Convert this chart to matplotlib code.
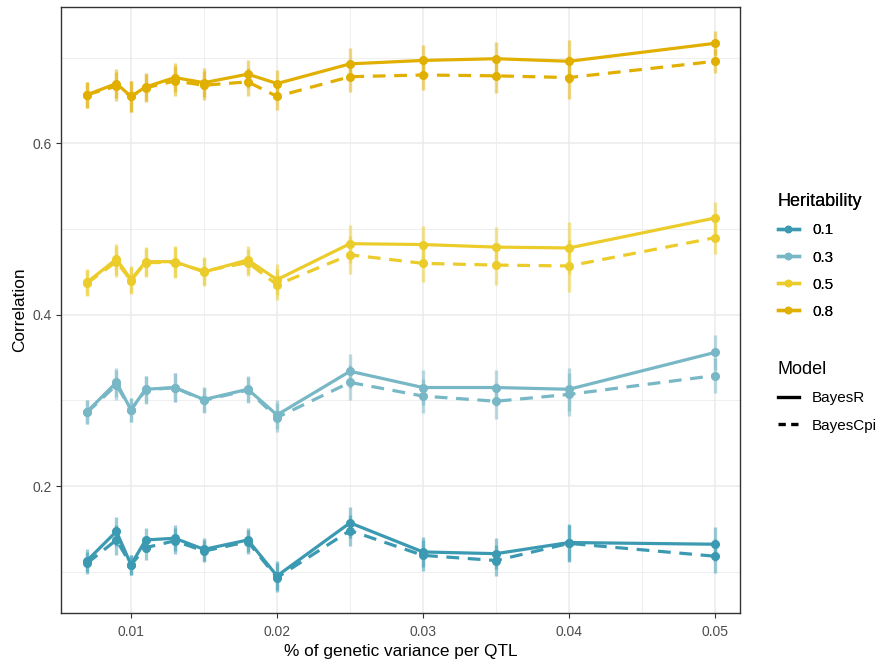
import numpy as np
from matplotlib import pyplot as plt
from matplotlib.lines import Line2D

plt.rcParams['font.family'] = ['Liberation Sans', 'DejaVu Sans']

qtl_var = [0.007, 0.009, 0.010, 0.011, 0.013, 0.015, 0.018, 0.020, 0.025, 0.030, 0.035, 0.040, 0.050]
heritability = ['0.1', '0.3', '0.5', '0.8']
colors = ['#3B9AB2', '#78B7C5', '#EBCC2A', '#E1AF00']

bayesR = {
    '0.1': [0.113, 0.147, 0.108, 0.137, 0.139, 0.126, 0.137, 0.095, 0.157, 0.123, 0.121, 0.134, 0.132],
    '0.3': [0.287, 0.321, 0.289, 0.313, 0.315, 0.301, 0.313, 0.283, 0.334, 0.315, 0.315, 0.313, 0.356],
    '0.5': [0.438, 0.465, 0.441, 0.462, 0.462, 0.450, 0.464, 0.441, 0.483, 0.482, 0.479, 0.478, 0.513],
    '0.8': [0.657, 0.670, 0.655, 0.666, 0.677, 0.671, 0.681, 0.670, 0.693, 0.697, 0.699, 0.696, 0.717],
}
bayesCpi = {
    '0.1': [0.110, 0.137, 0.108, 0.128, 0.136, 0.124, 0.135, 0.093, 0.148, 0.119, 0.113, 0.133, 0.118],
    '0.3': [0.286, 0.318, 0.289, 0.312, 0.315, 0.300, 0.312, 0.280, 0.321, 0.305, 0.299, 0.307, 0.329],
    '0.5': [0.437, 0.462, 0.440, 0.461, 0.461, 0.451, 0.461, 0.435, 0.470, 0.460, 0.458, 0.457, 0.490],
    '0.8': [0.657, 0.667, 0.655, 0.665, 0.673, 0.668, 0.672, 0.655, 0.678, 0.680, 0.679, 0.677, 0.696],
}
# approximate half-width of the error bars
err = {
    '0.1': [0.013, 0.017, 0.012, 0.014, 0.015, 0.013, 0.014, 0.017, 0.018, 0.018, 0.018, 0.022, 0.020],
    '0.3': [0.014, 0.017, 0.014, 0.016, 0.017, 0.015, 0.015, 0.017, 0.020, 0.020, 0.021, 0.025, 0.020],
    '0.5': [0.015, 0.018, 0.016, 0.017, 0.018, 0.016, 0.016, 0.018, 0.022, 0.022, 0.023, 0.030, 0.019],
    '0.8': [0.015, 0.017, 0.018, 0.016, 0.017, 0.017, 0.016, 0.016, 0.018, 0.018, 0.020, 0.025, 0.014],
}

fig = plt.figure(figsize=(8.8, 6.64), dpi=100)
ax = fig.add_axes([61 / 880, 1 - 613 / 664, 679 / 880, 606 / 664])

x = np.array(qtl_var)
for h, c in zip(heritability, colors):
    for vals, ls in [(bayesR[h], '-'), (bayesCpi[h], (0, (4, 2.7)))]:
        y = np.array(vals)
        ax.errorbar(x, y, yerr=err[h], fmt='none', ecolor=c, alpha=0.5, elinewidth=2.4, capsize=0, zorder=2)
        ax.plot(x, y, color=c, lw=2.3, linestyle=ls, zorder=3)
        ax.plot(x, y, 'o', color=c, ms=5.5, zorder=4)

ax.set_xlim(0.005205, 0.05171)
ax.set_ylim(0.0517, 0.7594)
ax.set_xticks([0.01, 0.02, 0.03, 0.04, 0.05])
ax.set_xticklabels(['0.01', '0.02', '0.03', '0.04', '0.05'])
ax.set_xticks([0.015, 0.025, 0.035, 0.045], minor=True)
ax.set_yticks([0.2, 0.4, 0.6])
ax.set_yticklabels(['0.2', '0.4', '0.6'])
ax.set_yticks([0.1, 0.3, 0.5, 0.7], minor=True)
ax.grid(which='major', color='#EBEBEB', lw=1.1, zorder=0)
ax.grid(which='minor', color='#EBEBEB', lw=0.55, zorder=0)
ax.set_axisbelow(True)
ax.tick_params(which='major', length=3.5, width=0.8, color='#333333', labelsize=10, labelcolor='#4D4D4D', pad=3)
ax.tick_params(axis='x', which='major', pad=5.5)
ax.tick_params(which='minor', length=0)
for s in ax.spines.values():
    s.set_color('#333333')
    s.set_linewidth(1.0)

ax.set_xlabel('% of genetic variance per QTL', fontsize=12.4, labelpad=3.5)
ax.set_ylabel('Correlation', fontsize=12.4, labelpad=4)

h_handles = [Line2D([0], [0], color=c, lw=2.4, marker='o', ms=4.5) for c in colors]
leg1 = fig.legend(h_handles, heritability, title='Heritability', loc='upper left',
                  bbox_to_anchor=(764 / 880, 1 - 179.5 / 664), frameon=False, fontsize=11,
                  title_fontsize=13, handlelength=1.4, labelspacing=0.86, alignment='left',
                  handletextpad=0.85)
fig.add_artist(leg1)

m_handles = [Line2D([0], [0], color='black', lw=2.4),
             Line2D([0], [0], color='black', lw=2.4, linestyle=(0, (2.2, 1.6)))]
fig.legend(m_handles, ['BayesR', 'BayesCpi'], title='Model', loc='upper left',
           bbox_to_anchor=(764 / 880, 1 - 347.5 / 664), frameon=False, fontsize=11,
           title_fontsize=13, handlelength=1.4, labelspacing=0.86, alignment='left',
           handletextpad=0.85)

plt.savefig('out.png', dpi=100)
